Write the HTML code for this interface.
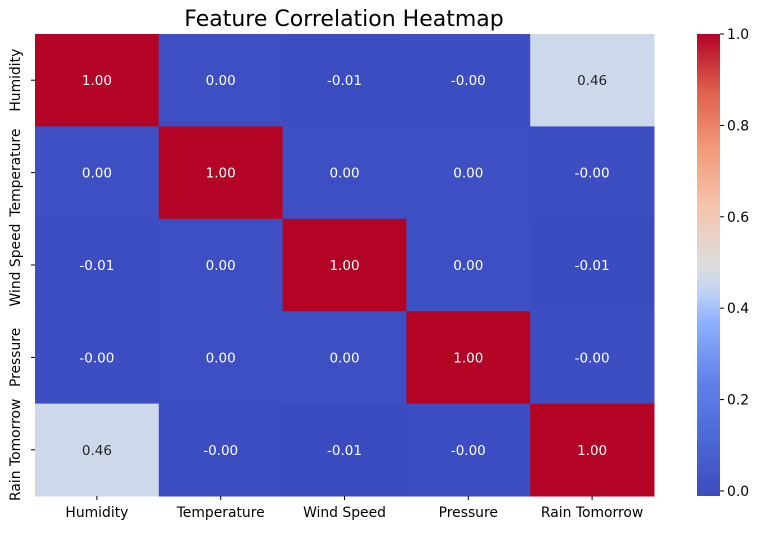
<!DOCTYPE html>
<html><head><meta charset="utf-8"><style>
body{margin:0;background:#fff;font-family:"Liberation Sans","DejaVu Sans",sans-serif}
svg text{font-family:"DejaVu Sans","Liberation Sans",sans-serif}
</style></head><body>
<svg id="chart" width="757" height="530" xmlns="http://www.w3.org/2000/svg">
<defs>
<linearGradient id="cg" x1="0" y1="1" x2="0" y2="0">
<stop offset="0" stop-color="rgb(59,76,192)"/>
<stop offset="0.125" stop-color="rgb(77,104,215)"/>
<stop offset="0.25" stop-color="rgb(98,130,234)"/>
<stop offset="0.375" stop-color="rgb(141,176,254)"/>
<stop offset="0.45" stop-color="rgb(198,214,241)"/>
<stop offset="0.5" stop-color="rgb(221,221,221)"/>
<stop offset="0.625" stop-color="rgb(245,196,173)"/>
<stop offset="0.75" stop-color="rgb(244,154,123)"/>
<stop offset="0.875" stop-color="rgb(222,96,77)"/>
<stop offset="1" stop-color="rgb(180,4,38)"/>
</linearGradient>
</defs>
<text x="344" y="26" text-anchor="middle" font-size="22">Feature Correlation Heatmap</text>
<g id="cells"></g>
<g id="labels"></g>
<rect x="697" y="34" width="23" height="462" fill="url(#cg)"/>
<g id="cbticks"></g>
</svg>
<script>
const features = ["Humidity","Temperature","Wind Speed","Pressure","Rain Tomorrow"];
const matrix = [
 [1.00, 0.002, -0.008, -0.003, 0.46],
 [0.002, 1.00, 0.001, 0.002, -0.004],
 [-0.008, 0.001, 1.00, 0.001, -0.009],
 [-0.003, 0.002, 0.001, 1.00, -0.002],
 [0.46, -0.004, -0.009, -0.002, 1.00]
];
const cbTicks = [0.0,0.2,0.4,0.6,0.8,1.0];
const vmin = -0.011, vmax = 1.0;
const X0=35, Y0=34, W=619, H=462;
const cw=W/features.length, ch=H/features.length;
const stops=[0,0.125,0.25,0.375,0.45,0.5,0.625,0.75,0.875,1];
const anchors=[[59,76,192],[77,104,215],[98,130,234],[141,176,254],[198,214,241],[221,221,221],[245,196,173],[244,154,123],[222,96,77],[180,4,38]];
function cmap(v){let t=(v-vmin)/(vmax-vmin);t=Math.max(0,Math.min(1,t));
 let i=0;while(i<stops.length-2&&t>stops[i+1])i++;
 const f=(t-stops[i])/(stops[i+1]-stops[i]);
 const a=anchors[i],b=anchors[i+1];return `rgb(${a.map((c,k)=>Math.round(c+(b[k]-c)*f)).join(',')})`;}
function lum(v){let t=(v-vmin)/(vmax-vmin);return t>0.3&&t<0.7;}
const NS="http://www.w3.org/2000/svg";
const cells=document.getElementById('cells'),labels=document.getElementById('labels'),cbt=document.getElementById('cbticks');
function mk(tag,attrs,parent,txt){const e=document.createElementNS(NS,tag);for(const k in attrs)e.setAttribute(k,attrs[k]);if(txt!==undefined)e.textContent=txt;parent.appendChild(e);return e;}
matrix.forEach((row,r)=>row.forEach((v,c)=>{
 const rc=mk('rect',{x:X0+c*cw,y:Y0+r*ch,width:cw+0.5,height:ch+0.5,fill:cmap(v)},cells);
 
 
 let s=v.toFixed(2); if(v<0&&Math.abs(v)<0.005)s="-0.00";
 const t=mk('text',{x:X0+(c+0.5)*cw,y:Y0+(r+0.5)*ch+5,'text-anchor':'middle','font-size':'13.5',fill:lum(v)?'#262626':'#fff'},cells,s);
 
 
}));
features.forEach((f,i)=>{
 const x=X0+(i+0.5)*cw;
 mk('line',{x1:x,x2:x,y1:Y0+H,y2:Y0+H+4,stroke:'#000'},labels);
 const t=mk('text',{x:x,y:517,'text-anchor':'middle','font-size':'13.9'},labels,f);
 
 
 const y=Y0+(i+0.5)*ch;
 mk('line',{x1:X0-4,x2:X0,y1:y,y2:y,stroke:'#000'},labels);
 const u=mk('text',{x:0,y:0,'text-anchor':'middle','font-size':'13.9',transform:`translate(20,${y}) rotate(-90)`},labels,f);
 
 
});
cbTicks.forEach(v=>{
 const y=Y0+H-(v-vmin)/(vmax-vmin)*H;
 mk('line',{x1:720,x2:724,y1:y,y2:y,stroke:'#000'},cbt);
 const t=mk('text',{x:727,y:y+5,'font-size':'13.9'},cbt,v.toFixed(1));
 
 
});
</script>
</body></html>
